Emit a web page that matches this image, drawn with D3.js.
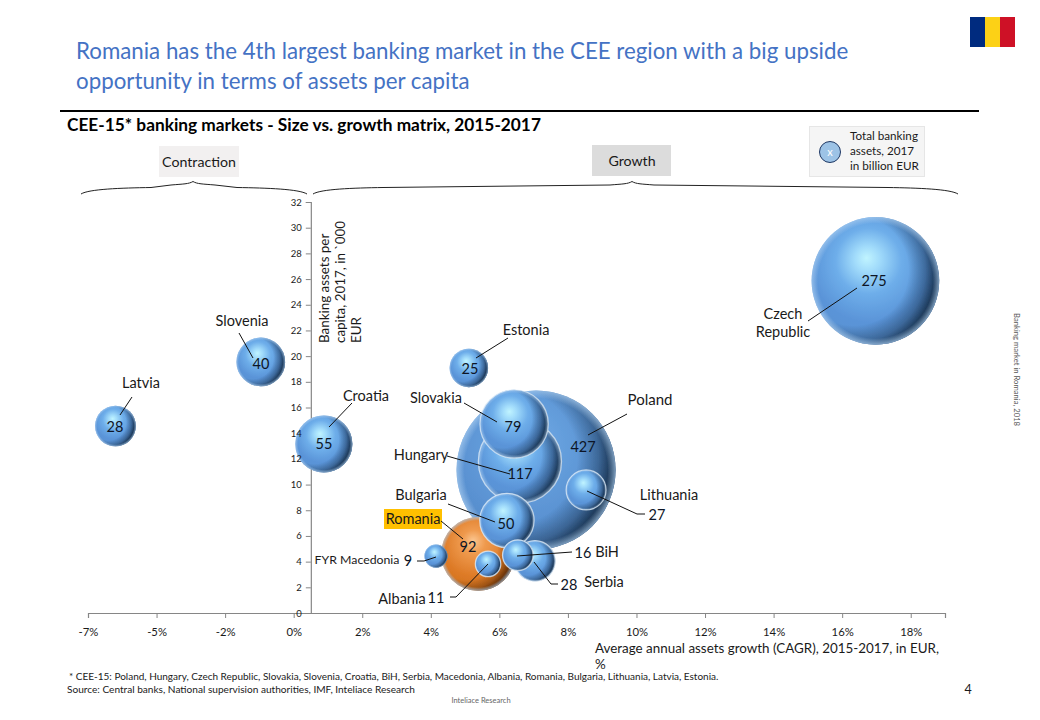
<!DOCTYPE html>
<html><head><meta charset="utf-8">
<script src="https://cdn.jsdelivr.net/npm/d3@7"></script>
<style>
html,body{margin:0;padding:0;background:#fff}
svg{display:block}
text{font-family:Lato,"Open Sans",sans-serif;fill:#1a1a1a}
</style></head><body>
<svg id="c" width="1040" height="720"></svg>
<script>
// ---- data ----
const countries = ["Poland","Hungary","Slovakia","Czech Republic","Latvia","Slovenia","Croatia","Estonia","Romania","Serbia","Albania","FYR Macedonia","Bulgaria","BiH","Lithuania"];
const growth    = [7.07,6.6,6.43,16.97,-5.2,-0.96,0.88,5.11,5.38,7.04,5.67,4.15,6.22,6.54,8.53];
const perCapita = [11.14,11.8,14.72,25.86,14.56,19.55,13.16,19.08,4.6,4.05,3.82,4.43,7.2,4.5,9.58];
const assets    = [427,117,79,275,28,40,55,25,92,28,11,9,50,16,27];
const xTickValues = [-6,-4,-2,0,2,4,6,8,10,12,14,16,18];
const xTickLabels = ["-7%","-5%","-2%","0%","2%","4%","6%","8%","10%","12%","14%","16%","18%"];
const yTickValues = [0,2,4,6,8,10,12,14,16,18,20,22,24,26,28,30,32];
const highlighted = "Romania";
const ringed = ["Hungary","Slovakia","Albania","Bulgaria","BiH","Serbia","Lithuania"];

// ---- layout (annotation placement, in page pixels) ----
const annotations = {
  "Poland":{label:[["Poland",650,405,15]],value:[583,452],line:[[627,414],[588,435]]},
  "Hungary":{label:[["Hungary",421,460,14.5]],value:[520,479],line:[[447,456],[510,474]]},
  "Slovakia":{label:[["Slovakia",436,403,14.5]],value:[513,432],line:[[464,403],[497,422]]},
  "Czech Republic":{label:[["Czech",783,319,14.5],["Republic",783,337,14.5]],value:[874,286],line:[[808,321],[857,288]]},
  "Latvia":{label:[["Latvia",141,388,14.5]],value:[115,432],line:[[132,397],[120,415]]},
  "Slovenia":{label:[["Slovenia",242,326,14.5]],value:[261,369],line:[[239,333],[253,358]]},
  "Croatia":{label:[["Croatia",366,401,14.5]],value:[324,449],line:[[352,403],[329,427]]},
  "Estonia":{label:[["Estonia",526,335,14.5]],value:[470,374],line:[[508,338],[476,358]]},
  "Romania":{label:[["Romania",413,524,14.5]],value:[468,552],line:[[441,521],[463,539]]},
  "Serbia":{label:[["Serbia",604,587,14.5]],value:[569,590],line:[[534,562],[551,584],[558,584]]},
  "Albania":{label:[["Albania",402,604,14.5]],value:[436,603],line:[[488,564],[456,597],[450,597]]},
  "FYR Macedonia":{label:[["FYR Macedonia",357,564,12.3]],value:[408,566],line:[[417,561],[424,561],[436,557]]},
  "Bulgaria":{label:[["Bulgaria",421,500,14.5]],value:[506,529],line:[[448,504],[495,522]]},
  "BiH":{label:[["BiH",607,557,14.5]],value:[583,558],line:[[517,556],[572,552]]},
  "Lithuania":{label:[["Lithuania",669,500,14.5]],value:[657,520],line:[[587,491],[637,514],[645,514]]}
};

const svg = d3.select("#c");
const defs = svg.append("defs");

// ---- scales ----
const x = d3.scaleLinear().domain([-6,19]).range([88,945]);
const y = d3.scaleLinear().domain([0,32]).range([613,202]);
const r = d3.scaleSqrt().domain([0,427]).range([0,79.5]);
const yAxisAt = 0.5;

// ---- gradients ----
function ball(id,stops){
  const g = defs.append("radialGradient").attr("id",id)
    .attr("cx","0.47").attr("cy","0.38").attr("r","0.64").attr("fx","0.43").attr("fy","0.32");
  stops.forEach(s=>g.append("stop").attr("offset",s[0]).attr("stop-color",s[1]));
}
ball("blue",[[0,"#c0f4ff"],[0.15,"#a2dcfb"],[0.4,"#6eaeea"],[0.72,"#5a94d8"],[1,"#5a92d2"]]);
ball("bigblue",[[0,"#8fc8f4"],[0.25,"#68a2df"],[0.7,"#5a92d2"],[1,"#5689c6"]]);
ball("orange",[[0,"#fbc690"],[0.25,"#ef9a4e"],[0.7,"#dd7a26"],[1,"#d0721f"]]);
function shade(id,col){
  const g = defs.append("radialGradient").attr("id",id)
    .attr("cx","0.33").attr("cy","0.42").attr("r","0.74");
  [[0,0],[0.58,0],[0.76,0.38],[0.9,0.9],[1,1]].forEach(s=>
    g.append("stop").attr("offset",s[0]).attr("stop-color",col).attr("stop-opacity",s[1]));
}
shade("shadeBlue","#0c2138");
shade("shadeOrange","#4a2000");
const rim = defs.append("radialGradient").attr("id","rim")
  .attr("cx","0.5").attr("cy","0.5").attr("r","0.5");
[[0,0],[0.9,0],[1,0.7]].forEach(s=>
  rim.append("stop").attr("offset",s[0]).attr("stop-color","#a9cdf0").attr("stop-opacity",s[1]));
defs.append("filter").attr("id","soft").attr("x","-5%").attr("y","-5%").attr("width","110%").attr("height","110%")
  .append("feGaussianBlur").attr("stdDeviation",0.5);

// ---- decoration ----
function txt(s,px,py,size,opt={}){
  const t = svg.append("text").attr("x",px).attr("y",py).attr("font-size",size).text(s);
  if(opt.anchor) t.attr("text-anchor",opt.anchor);
  if(opt.weight) t.attr("font-weight",opt.weight);
  if(opt.fill) t.style("fill",opt.fill);
  if(opt.rotate!=null) t.attr("transform",`rotate(${opt.rotate} ${px} ${py})`);
  return t;
}
txt("Romania has the 4th largest banking market in the CEE region with a big upside",76,59,22.3,{fill:"#4472c4"});
txt("opportunity in terms of assets per capita",76,89,22.3,{fill:"#4472c4"});
svg.append("rect").attr("x",970).attr("y",17).attr("width",15).attr("height",30).attr("fill","#002b7f");
svg.append("rect").attr("x",985).attr("y",17).attr("width",15).attr("height",30).attr("fill","#fcd116");
svg.append("rect").attr("x",1000).attr("y",17).attr("width",15).attr("height",30).attr("fill","#ce1126");
svg.append("line").attr("x1",60).attr("x2",979).attr("y1",111).attr("y2",111).attr("stroke","#000").attr("stroke-width",2);
txt("CEE-15* banking markets - Size vs. growth matrix, 2015-2017",67,131,17.3,{weight:700,fill:"#000"});

svg.append("rect").attr("x",159).attr("y",146).attr("width",80).attr("height",31).attr("fill","#f2f0f0");
txt("Contraction",199,167,14.2,{anchor:"middle"});
svg.append("rect").attr("x",592).attr("y",145).attr("width",79).attr("height",31).attr("fill","#dcdcdc");
txt("Growth",632,166,14.2,{anchor:"middle"});

svg.append("rect").attr("x",809.5).attr("y",126.5).attr("width",115).attr("height",50).attr("fill","#f5f5f5").attr("stroke","#e6e6e6");
svg.append("circle").attr("cx",830).attr("cy",152).attr("r",10.5).attr("fill","#9dc3e6").attr("stroke","#1f3864").attr("stroke-width",1);
txt("x",830,156,11,{anchor:"middle",fill:"#fff"});
txt("Total banking",850,140,11.7);
txt("assets, 2017",850,155,11.7);
txt("in billion EUR",850,170,11.7);

function brace(x0,xm,x1){
  const top=181.5, lvl=188, end=194;
  return `M${x0},${end} C${x0+8},${lvl+1} ${x0+40},${lvl} ${x0+70},${lvl-0.5} L${xm-22},${lvl-3}`
    +` C${xm-10},${lvl-4} ${xm-4},${lvl-4} ${xm},${top}`
    +` C${xm+4},${lvl-4} ${xm+10},${lvl-4} ${xm+22},${lvl-3} L${x1-70},${lvl-0.5}`
    +` C${x1-40},${lvl} ${x1-8},${lvl+1} ${x1},${end}`;
}
svg.append("path").attr("d",brace(81,193,307)).attr("fill","none").attr("stroke","#222").attr("stroke-width",1);
svg.append("path").attr("d",brace(313,632,958)).attr("fill","none").attr("stroke","#222").attr("stroke-width",1);

// ---- axes ----
const xAxis = d3.axisBottom(x).tickValues(xTickValues).tickSize(5).tickPadding(10)
  .tickFormat((d,i)=>xTickLabels[i]);
const gx = svg.append("g").attr("transform",`translate(0,${y(0)})`).call(xAxis);
const yAxis = d3.axisLeft(y).tickValues(yTickValues).tickSize(5).tickFormat("");
const gy = svg.append("g").attr("transform",`translate(${x(yAxisAt)},0)`).call(yAxis);
[gx,gy].forEach(g=>{
  g.selectAll(".domain").attr("stroke","#868686").attr("stroke-width",1.2);
  g.selectAll(".tick line").attr("stroke","#868686");
});
gx.selectAll("text").attr("font-size",11.3).attr("font-family","Lato").style("fill","#1a1a1a");

txt("Banking assets per",329,343,13.4,{rotate:-90});
txt("capita, 2017, in `000",345,343,13.4,{rotate:-90});
txt("EUR",361,343,13.4,{rotate:-90});
txt("Average annual assets growth (CAGR), 2015-2017, in EUR,",595,653,13.4);
txt("%",595,669,13.4);

// ---- bubbles ----
const data = countries.map((c,i)=>({c,x:growth[i],y:perCapita[i],v:assets[i]}));
svg.append("rect").attr("x",384).attr("y",509).attr("width",58).attr("height",20).attr("fill","#ffc000");
const bub = svg.append("g").selectAll("g").data(data).join("g")
  .attr("transform",d=>`translate(${x(d.x)},${y(d.y)})`)
  .attr("filter","url(#soft)");
bub.append("circle").attr("r",d=>r(d.v))
  .attr("fill",d=>d.c===highlighted?"url(#orange)":d.v===427?"url(#bigblue)":"url(#blue)");
bub.append("circle").attr("r",d=>r(d.v))
  .attr("fill",d=>d.c===highlighted?"url(#shadeOrange)":"url(#shadeBlue)");
bub.append("circle").attr("r",d=>r(d.v)).attr("fill","url(#rim)");
bub.filter(d=>ringed.includes(d.c)).append("circle").attr("r",d=>r(d.v))
  .attr("fill","none").attr("stroke","#eaf2fa").attr("stroke-opacity",0.7).attr("stroke-width",1.2);

// y tick labels sit above the bubbles, the axis line below them
const gyLabels = svg.append("g").attr("transform",`translate(${x(yAxisAt)},0)`)
  .call(d3.axisLeft(y).tickValues(yTickValues).tickSize(0).tickPadding(9));
gyLabels.select(".domain").remove();
gyLabels.selectAll("text").attr("font-size",9.5).attr("font-family","Lato").style("fill","#1a1a1a");

// ---- leaders and labels ----
const lineGen = d3.line();
data.forEach(d=>{
  const a = annotations[d.c];
  svg.append("path").attr("d",lineGen(a.line)).attr("fill","none").attr("stroke","#111").attr("stroke-width",1);
});
data.forEach(d=>{
  const a = annotations[d.c];
  txt(d.v,a.value[0],a.value[1],14.5,{anchor:"middle",fill:"#0d1526"});
  a.label.forEach(l=>txt(l[0],l[1],l[2],l[3],{anchor:"middle"}));
});

// ---- footer ----
txt("* CEE-15: Poland, Hungary, Czech Republic, Slovakia, Slovenia, Croatia, BiH, Serbia, Macedonia, Albania, Romania, Bulgaria, Lithuania, Latvia, Estonia.",69,680,10);
txt("Source: Central banks, National supervision authorities, IMF, Inteliace Research",67,693,10.1);
txt("4",968,694,12.5,{anchor:"middle"});
txt("Inteliace Research",481,703,7.5,{anchor:"middle",fill:"#666"});
txt("Banking market in Romania, 2018",1014,313,7.7,{rotate:90,fill:"#555"});
</script>
</body></html>
